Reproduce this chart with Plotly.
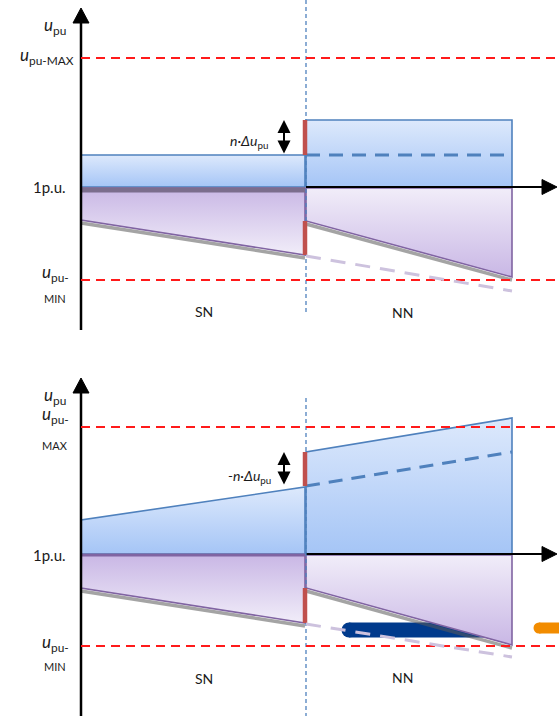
import plotly.graph_objects as go

# ---------------- data (x: position along feeder, y: voltage deviation from 1 p.u.) ----------------
x_sn = [0, 224]            # SN section (from vertical axis to SN/NN boundary)
x_nn = [225, 431]          # NN section
x_limit = [0, 474]         # extent of the u_pu-MAX / u_pu-MIN limit lines
x_hax = [225, 462]         # visible part of the 1 p.u. horizontal axis
x_hax_tip = 476
x_darrow = 203

# top panel: constant tap boost
top_umax = 129
top_umin = -93
top_sn_upper = [32, 32]
top_sn_lower = [-33, -68]
top_nn_upper = [67, 67]
top_nn_dash = [32, 32]
top_nn_lower = [-34, -90]
top_nn_light = [-69, -104]
top_step_up = [32, 67]
top_step_down = [-34, -68]
top_vaxis = [-143, 164]
top_vaxis_tip = 179
top_vline = [187, -128]

# bottom panel: rising voltage profile
bot_umax = 127
bot_umin = -92
bot_sn_upper = [34, 67]
bot_sn_lower = [-34, -69]
bot_nn_upper = [102, 136]
bot_nn_dash = [68, 102]
bot_nn_lower = [-34, -91]
bot_nn_light = [-70, -103]
bot_step_up = [68, 102]
bot_step_down = [-34, -69]
bot_vaxis = [-162, 161]
bot_vaxis_tip = 176
bot_vline = [156, -162]
bot_dg_x = [268, 409]
bot_dg_y = -76
bot_or_x = [458, 495]
bot_or_y = -74

# ---------------- styling ----------------
BLUE_EDGE = "#4f81bd"
BLUE_TOP, BLUE_BOT = "#dde9fc", "#a5c5f6"
PURP_EDGE = "#8064a2"
PURP_DARK, PURP_LIGHT = "#c9b7e5", "#f1edf9"
RED = "#ff1a1a"
RED_BAR = "#c0504d"
FONT = "Lato, 'Open Sans', sans-serif"

fig = go.Figure()


def yname(p):
    return "y" if p == 1 else "y2"


def line(p, xs, ys, color, width, dash=None):
    fig.add_trace(go.Scatter(x=xs, y=ys, yaxis=yname(p), mode="lines",
                             line=dict(color=color, width=width, dash=dash),
                             hoverinfo="skip", showlegend=False))


def poly(p, xs, ys, edge, c_low, c_high, width=1.6):
    fig.add_trace(go.Scatter(x=xs, y=ys, yaxis=yname(p), mode="lines", fill="toself",
                             fillgradient=dict(type="vertical",
                                               colorscale=[[0, c_low], [1, c_high]]),
                             line=dict(color=edge, width=width),
                             hoverinfo="skip", showlegend=False))


def upper_poly(p, xr, top):
    poly(p, [xr[0], xr[1], xr[1], xr[0], xr[0]], [0, 0, top[1], top[0], 0],
         BLUE_EDGE, BLUE_BOT, BLUE_TOP)


def lower_poly(p, xr, low, sn):
    line(p, xr, [low[0] - 3, low[1] - 3], "rgba(90,90,90,0.55)", 3.5)
    if sn:
        cl, ch = PURP_LIGHT, PURP_DARK
    else:
        cl, ch = PURP_DARK, PURP_LIGHT
    poly(p, [xr[0], xr[1], xr[1], xr[0], xr[0]], [-1, -1, low[1], low[0], -1],
         PURP_EDGE, cl, ch)


def panel(p, umax, umin, sn_up, sn_low, nn_up, nn_dash, nn_low, nn_light,
          st_up, st_down, vaxis, vtip, vline):
    upper_poly(p, x_sn, sn_up)
    lower_poly(p, x_sn, sn_low, True)
    upper_poly(p, x_nn, nn_up)
    lower_poly(p, x_nn, nn_low, False)
    if p == 1:
        line(p, x_sn, [-3, -3], "#7b6d8d", 5)
    else:
        line(p, x_sn, [-1, -1], PURP_EDGE, 3)
    # axes
    line(p, [0, 0], vaxis, "black", 2.5)
    fig.add_trace(go.Scatter(x=[-8, 8, 0, -8], y=[vtip - 15, vtip - 15, vtip, vtip - 15],
                             yaxis=yname(p), mode="lines", fill="toself",
                             fillcolor="black", line=dict(color="black", width=1),
                             hoverinfo="skip", showlegend=False))
    line(p, x_hax, [0, 0], "black", 2)
    fig.add_trace(go.Scatter(x=[x_hax_tip - 15, x_hax_tip - 15, x_hax_tip, x_hax_tip - 15],
                             y=[-7.5, 7.5, 0, -7.5], yaxis=yname(p), mode="lines",
                             fill="toself", fillcolor="black", line=dict(color="black", width=1),
                             hoverinfo="skip", showlegend=False))
    # dashed tap profile in NN
    line(p, x_nn, nn_dash, BLUE_EDGE, 3, "14px,9px")
    # boundary
    line(p, [x_nn[0], x_nn[0]], vline, BLUE_EDGE, 1.3, "4px,3px")
    # step bars
    line(p, [x_nn[0] - 1, x_nn[0] - 1], st_up, RED_BAR, 4.5)
    line(p, [x_nn[0] - 1, x_nn[0] - 1], st_down, RED_BAR, 4.5)
    # limits
    line(p, x_limit, [umax, umax], RED, 2, "9px,6px")
    line(p, x_limit, [umin, umin], RED, 2, "9px,6px")
    # old profile continuation
    line(p, x_nn, nn_light, "#cdc2de", 3, "15px,10px")
    # double arrow
    yr = "y" if p == 1 else "y2"
    fig.add_annotation(x=x_darrow, y=st_up[1], ax=x_darrow, ay=st_up[0], xref="x", yref=yr,
                       axref="x", ayref=yr, text="", showarrow=True, arrowhead=2,
                       arrowside="end+start", arrowwidth=2, arrowsize=1.3,
                       arrowcolor="black", standoff=0, startstandoff=0)


# bottom-panel bars behind the NN profile
fig.add_trace(go.Scatter(x=bot_dg_x, y=[bot_dg_y, bot_dg_y], yaxis="y2", mode="lines+markers",
                         line=dict(color="#003a8c", width=15),
                         marker=dict(color="#003a8c", size=15, line=dict(width=0)),
                         hoverinfo="skip", showlegend=False))
fig.add_trace(go.Scatter(x=bot_or_x, y=[bot_or_y, bot_or_y], yaxis="y2", mode="lines+markers",
                         line=dict(color="#f28c00", width=11),
                         marker=dict(color="#f28c00", size=11, line=dict(width=0)),
                         hoverinfo="skip", showlegend=False))

panel(1, top_umax, top_umin, top_sn_upper, top_sn_lower, top_nn_upper, top_nn_dash,
      top_nn_lower, top_nn_light, top_step_up, top_step_down, top_vaxis, top_vaxis_tip, top_vline)
panel(2, bot_umax, bot_umin, bot_sn_upper, bot_sn_lower, bot_nn_upper, bot_nn_dash,
      bot_nn_lower, bot_nn_light, bot_step_up, bot_step_down, bot_vaxis, bot_vaxis_tip, bot_vline)

U = "<i>u</i><sub>pu</sub>"


def label(p, x, y, text, size=14, xanchor="center"):
    fig.add_annotation(x=x, y=y, xref="x", yref=yname(p), text=text, showarrow=False,
                       xanchor=xanchor, yanchor="middle",
                       font=dict(family=FONT, size=size, color="#1a1a1a"))


label(1, -26, 161, U, 17)
label(1, -34, 131, "<i>u</i><sub>pu-MAX</sub>", 17)
label(1, -13, 0, "1p.u.", 15, "right")
label(1, -26, -86, "<i>u</i><sub>pu-</sub>", 17)
label(1, -26, -111, "MIN", 11)
label(1, 123, -124, "SN", 14)
label(1, 321, -125, "NN", 14)
label(1, 189, 46, "<i>n·Δu</i><sub>pu</sub>", 14, "right")

label(2, -26, 158, U, 17)
label(2, -26, 139, "<i>u</i><sub>pu-</sub>", 17)
label(2, -26, 109, "MAX", 11)
label(2, -13, -1, "1p.u.", 15, "right")
label(2, -26, -89, "<i>u</i><sub>pu-</sub>", 17)
label(2, -26, -112, "MIN", 11)
label(2, 123, -124, "SN", 14)
label(2, 321, -123, "NN", 14)
label(2, 192, 78, "<i>-n·Δu</i><sub>pu</sub>", 14, "right")

fig.update_layout(
    width=559, height=716,
    margin=dict(l=0, r=0, t=0, b=0),
    paper_bgcolor="white", plot_bgcolor="white",
    showlegend=False,
    xaxis=dict(range=[-81, 478], visible=False, fixedrange=True),
    yaxis=dict(range=[187 - 716, 187], visible=False, domain=[0, 1], fixedrange=True),
    yaxis2=dict(range=[554 - 716, 554], visible=False, overlaying="y", fixedrange=True),
)

fig.write_html("out.html", config={"displayModeBar": False},
               post_script="document.body.style.margin='0';document.body.style.overflow='hidden';")
